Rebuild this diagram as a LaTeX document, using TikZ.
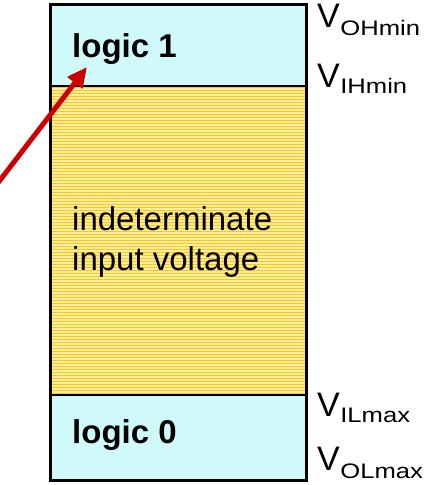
\documentclass[tikz,border=0pt]{standalone}
\usepackage{fontspec}
\setmainfont{Liberation Sans}
\usetikzlibrary{arrows.meta}
\definecolor{lcyan}{RGB}{208,250,250}
\definecolor{ygold}{RGB}{252,198,30}
\definecolor{ypale}{RGB}{255,238,160}
\definecolor{arrred}{RGB}{204,0,0}
\tikzset{
  bigtxt/.style={anchor=base west,inner sep=0pt,font=\fontsize{33}{40}\selectfont},
  logictxt/.style={anchor=base west,inner sep=0pt,font=\fontsize{33}{40}\selectfont\bfseries},
  vlab/.style={anchor=base west,inner sep=0pt,font=\fontsize{34}{38}\selectfont},
  vsub/.style={anchor=base west,inner sep=0pt,xscale=1.22,font=\fontsize{21}{24}\selectfont},
  divider/.style={draw=black,line width=1.5pt},
}
\begin{document}
\begin{tikzpicture}[x=1pt,y=-1pt]
\useasboundingbox (0,0) rectangle (425,485);
\fill[white] (0,0) rectangle (425,485);
% regions
\fill[lcyan] (50,4) rectangle (306,86);
\fill[lcyan] (50,395) rectangle (306,480);
\fill[ypale] (50,86) rectangle (306,395);
\foreach \y in {87.5,90.5,...,394}{
  \draw[ygold,line width=1.9pt] (50,\y) -- (306,\y);
}
\draw[divider] (50,86) -- (306,86);
\draw[divider] (50,395) -- (306,395);
\draw[black,line width=3pt] (50,4) rectangle (306,480);
% texts
\node[logictxt] (l1) at (72,57) {logic 1};
\node[bigtxt] (ind) at (72,230) {indeterminate};
\node[bigtxt] (inp) at (72,270) {input voltage};
\node[logictxt] (l0) at (72,443) {logic 0};
% voltage labels
\node[vlab] (v1) at (317,27) {V};
\node[vsub] (s1) at ([yshift=-8pt]v1.base east) {OHmin};
\node[vlab] (v2) at (317,87) {V};
\node[vsub] (s2) at ([yshift=-6pt]v2.base east) {IHmin};
\node[vlab] (v3) at (317,416) {V};
\node[vsub] (s3) at ([yshift=-6pt]v3.base east) {ILmax};
\node[vlab] (v4) at (317,470) {V};
\node[vsub] (s4) at ([yshift=-8pt]v4.base east) {OLmax};
% arrow
\coordinate (atail) at (-6,188);
\coordinate (ahead) at (87,67);
\draw[arrred,line width=5pt,-{Triangle[length=20pt,width=18pt]}] (atail) -- (ahead);
\end{tikzpicture}
\end{document}
